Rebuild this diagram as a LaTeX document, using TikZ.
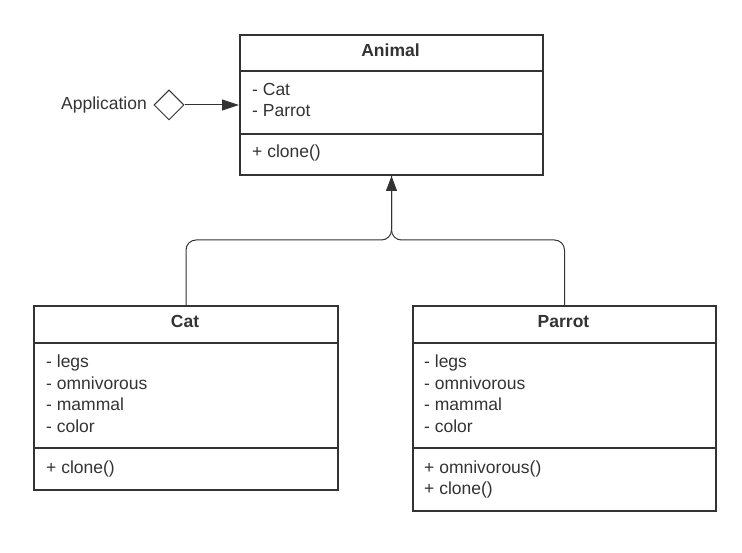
\documentclass[tikz,border=0pt]{standalone}
\usepackage{fontspec}
\setmainfont{Liberation Sans}
\usetikzlibrary{arrows.meta,shapes.geometric}
\definecolor{umlgray}{HTML}{333333}
\newcommand{\umlfont}{\fontsize{17.5}{21}\selectfont}
\tikzset{
  classbox/.style={draw=umlgray, line width=2pt, anchor=north west, inner sep=0pt},
  classsep/.style={draw=umlgray, line width=2pt},
  classname/.style={anchor=base, inner sep=0pt, text=umlgray, font=\umlfont\bfseries},
  member/.style={anchor=base west, inner sep=0pt, text=umlgray, font=\umlfont},
  conn/.style={draw=umlgray, line width=1pt}
}
\begin{document}
\begin{tikzpicture}[x=1pt, y=-1pt]
\useasboundingbox (0,0) rectangle (742,553);

% Animal class
\node[classbox, minimum width=303, minimum height=140] (animal) at (239,34) {};
\draw[classsep] (239,71) -- (542,71);
\draw[classsep] (239,134) -- (542,134);
\node[classname] (animalname) at (390.5,56.5) {Animal};
\node[member] (animalcat) at (252,96) {- Cat};
\node[member] (animalparrot) at (252,117) {- Parrot};
\node[member] (animalclone) at (252,158) {+ clone()};

% Application with aggregation
\node[member, anchor=base east] (app) at (147,110) {Application};
\node[diamond, draw=umlgray, line width=1pt, minimum size=30, inner sep=0pt] (agg) at (169,105) {};
\draw[conn, -{Triangle[length=17pt, width=11pt]}] (agg.east) -- (animal.west |- agg.east);

% Cat class
\node[classbox, minimum width=304, minimum height=184] (cat) at (33,305) {};
\draw[classsep] (33,343) -- (337,343);
\draw[classsep] (33,448) -- (337,448);
\node[classname] (catname) at (185,327.5) {Cat};
\node[member] (catlegs) at (46,368) {- legs};
\node[member] (catomni) at (46,389) {- omnivorous};
\node[member] (catmammal) at (46,410.5) {- mammal};
\node[member] (catcolor) at (46,432) {- color};
\node[member] (catclone) at (46,473) {+ clone()};

% Parrot class
\node[classbox, minimum width=303, minimum height=205] (parrot) at (412,305) {};
\draw[classsep] (412,343) -- (715,343);
\draw[classsep] (412,448) -- (715,448);
\node[classname] (parrotname) at (563.5,327.5) {Parrot};
\node[member] (parrotlegs) at (424,368) {- legs};
\node[member] (parrotomni) at (424,389) {- omnivorous};
\node[member] (parrotmammal) at (424,410.5) {- mammal};
\node[member] (parrotcolor) at (424,432) {- color};
\node[member] (parrotomnim) at (424,473) {+ omnivorous()};
\node[member] (parrotclone) at (424,494) {+ clone()};

% Inheritance
\coordinate (join) at (animal.south |- 0,240);
\draw[conn, rounded corners=10pt] (cat.north) |- (join) -- (animal.south);
\draw[conn, rounded corners=10pt, -{Triangle[length=15pt, width=11pt]}] (parrot.north) |- (join) -- (animal.south);

\end{tikzpicture}
\end{document}
